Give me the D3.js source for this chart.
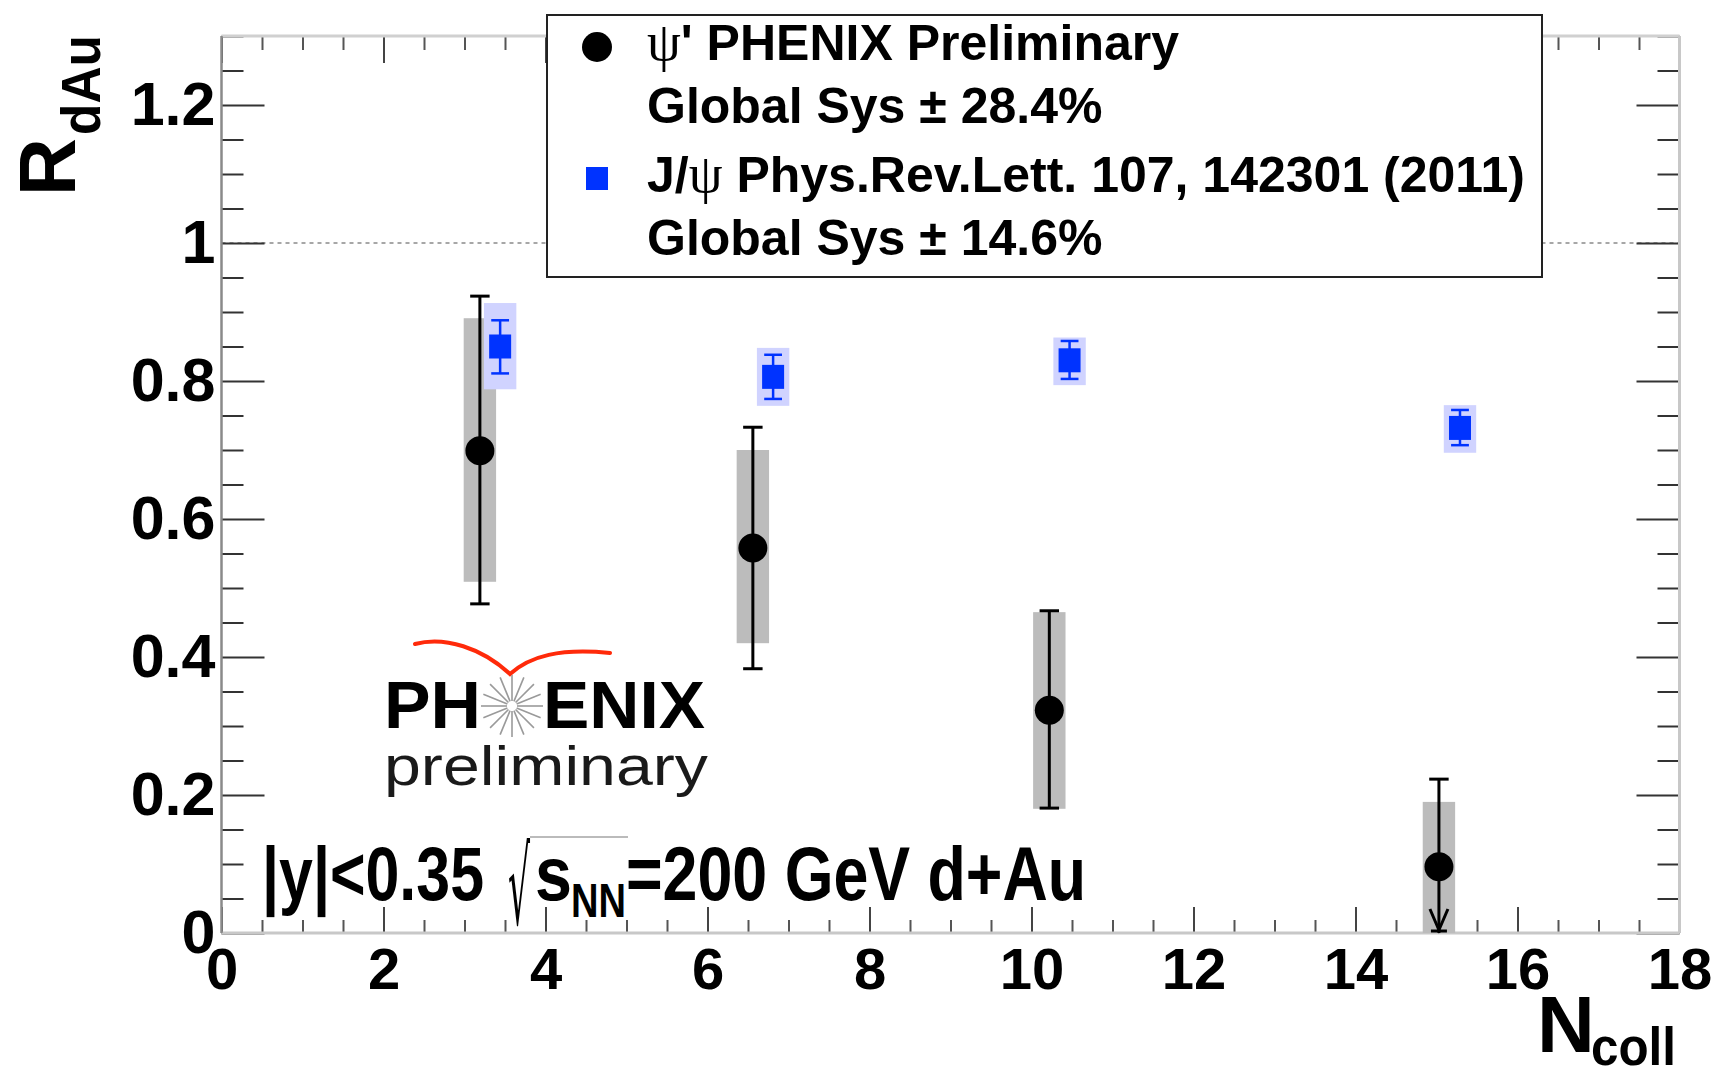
<!DOCTYPE html>
<html><head><meta charset="utf-8">
<script src="https://cdn.jsdelivr.net/npm/d3@7"></script>
<style>
body{margin:0;background:#fff}
svg{display:block}
text{font-family:'Liberation Sans',Arial,Helvetica,sans-serif}
</style>
</head><body>
<svg id="c" width="1719" height="1078"></svg>
<script>
// ---------------- data ----------------
const xTickValues = [0, 2, 4, 6, 8, 10, 12, 14, 16, 18];
const xTickLabels = ["0", "2", "4", "6", "8", "10", "12", "14", "16", "18"];
const yTickValues = [0, 0.2, 0.4, 0.6, 0.8, 1.0, 1.2];
const yTickLabels = ["0", "0.2", "0.4", "0.6", "0.8", "1", "1.2"];

// psi' PHENIX preliminary
const psiN       = [3.19, 6.56, 10.22, 15.03];
const psiR       = [0.699, 0.558, 0.323, 0.096];
const psiStatHi  = [0.923, 0.733, 0.467, 0.223];
const psiStatLo  = [0.477, 0.383, 0.181, 0.0];
const psiSysHi   = [0.891, 0.700, 0.465, 0.190];
const psiSysLo   = [0.509, 0.420, 0.180, 0.0];
const psiLimit   = [false, false, false, true];

// J/psi PRL 107, 142301 (2011)
const jpsiN      = [3.44, 6.81, 10.47, 15.29];
const jpsiR      = [0.850, 0.806, 0.830, 0.732];
const jpsiStatHi = [0.888, 0.838, 0.858, 0.758];
const jpsiStatLo = [0.811, 0.774, 0.803, 0.707];
const jpsiSysHi  = [0.913, 0.848, 0.863, 0.765];
const jpsiSysLo  = [0.788, 0.764, 0.794, 0.696];

const legendLabels = ["ψ' PHENIX Preliminary", "Global Sys ± 28.4%", "J/ψ Phys.Rev.Lett. 107, 142301 (2011)", "Global Sys ± 14.6%"];

// ---------------- drawing ----------------
const svg = d3.select("#c");
const X0 = 221.5, X1 = 1679.5, Y0 = 933, Y1 = 36;
const x = d3.scaleLinear().domain([0, 18]).range([X0, X1]);
const y = d3.scaleLinear().domain([0, 1.3]).range([Y0, Y1]);

const BLUE = "#0033ff", BLUE_SYS = "#d0d3ff", GRAY_SYS = "#bcbcbc";
const sysHalf = 0.2, capHalfK = 0.12, capHalfB = 0.11;

// reference line at R=1
svg.append("line")
  .attr("x1", x(0)).attr("x2", x(18)).attr("y1", y(1)).attr("y2", y(1))
  .attr("stroke", "#8a8a8a").attr("stroke-width", 1.5).attr("stroke-dasharray", "4,4");

// axes
const xMinor = d3.range(0, 18.001, 0.5).filter(v => !xTickValues.includes(v));
const yMinor = d3.range(0, 27).map(i => i * 0.05).filter(v => Math.abs(v / 0.2 - Math.round(v / 0.2)) > 1e-6);

function styleAxis(g, col, fs) {
  g.select(".domain").remove();
  g.selectAll(".tick line").attr("stroke", col).attr("stroke-width", 2);
  g.attr("font-family", "'Liberation Sans', Arial, sans-serif").attr("font-size", fs || 58).attr("font-weight", "bold");
  g.selectAll(".tick text").attr("fill", "#000");
}

const gx = svg.append("g").attr("transform", `translate(0,${Y0})`)
  .call(d3.axisBottom(x).tickValues(xTickValues).tickFormat((d, i) => xTickLabels[i]).tickSize(-26).tickPadding(15));
styleAxis(gx, "#444", 58);
const gxm = svg.append("g").attr("transform", `translate(0,${Y0})`)
  .call(d3.axisBottom(x).tickValues(xMinor).tickFormat("").tickSize(-13));
styleAxis(gxm, "#555");
const gxt = svg.append("g").attr("transform", `translate(0,${Y1})`)
  .call(d3.axisTop(x).tickValues(xTickValues).tickFormat("").tickSize(-27));
styleAxis(gxt, "#444");
const gxtm = svg.append("g").attr("transform", `translate(0,${Y1})`)
  .call(d3.axisTop(x).tickValues(xMinor).tickFormat("").tickSize(-14));
styleAxis(gxtm, "#555");

const gy = svg.append("g").attr("transform", `translate(${X0},0)`)
  .call(d3.axisLeft(y).tickValues(yTickValues).tickFormat((d, i) => yTickLabels[i]).tickSize(-43).tickPadding(6));
styleAxis(gy, "#333", 61);
const gym = svg.append("g").attr("transform", `translate(${X0},0)`)
  .call(d3.axisLeft(y).tickValues(yMinor).tickFormat("").tickSize(-22));
styleAxis(gym, "#333");
const gyr = svg.append("g").attr("transform", `translate(${X1},0)`)
  .call(d3.axisRight(y).tickValues(yTickValues).tickFormat("").tickSize(-43));
styleAxis(gyr, "#333");
const gyrm = svg.append("g").attr("transform", `translate(${X1},0)`)
  .call(d3.axisRight(y).tickValues(yMinor).tickFormat("").tickSize(-22));
styleAxis(gyrm, "#333");

// frame
svg.append("line").attr("x1", X0).attr("x2", X1).attr("y1", Y0).attr("y2", Y0).attr("stroke", "#c8c8c8").attr("stroke-width", 3);
svg.append("line").attr("x1", X0).attr("x2", X1).attr("y1", Y1).attr("y2", Y1).attr("stroke", "#d0d0d0").attr("stroke-width", 3);
svg.append("line").attr("x1", X1).attr("x2", X1).attr("y1", Y1).attr("y2", Y0).attr("stroke", "#c8c8c8").attr("stroke-width", 3);
svg.append("line").attr("x1", X0).attr("x2", X0).attr("y1", Y1).attr("y2", Y0).attr("stroke", "#8a8a8a").attr("stroke-width", 2.5);

// systematic boxes
const idx = d3.range(psiN.length);
svg.append("g").selectAll("rect").data(idx).join("rect")
  .attr("x", i => x(psiN[i] - sysHalf)).attr("width", i => x(psiN[i] + sysHalf) - x(psiN[i] - sysHalf))
  .attr("y", i => y(psiSysHi[i])).attr("height", i => y(psiSysLo[i]) - y(psiSysHi[i]))
  .attr("fill", GRAY_SYS);
svg.append("g").selectAll("rect").data(idx).join("rect")
  .attr("x", i => x(jpsiN[i] - sysHalf)).attr("width", i => x(jpsiN[i] + sysHalf) - x(jpsiN[i] - sysHalf))
  .attr("y", i => y(jpsiSysHi[i])).attr("height", i => y(jpsiSysLo[i]) - y(jpsiSysHi[i]))
  .attr("fill", BLUE_SYS);

// psi' stat errors
const ge = svg.append("g").attr("stroke", "#000").attr("stroke-width", 3).attr("fill", "none");
idx.forEach(i => {
  const cx = x(psiN[i]);
  ge.append("line").attr("x1", cx).attr("x2", cx).attr("y1", y(psiStatHi[i])).attr("y2", y(psiStatLo[i]));
  ge.append("line").attr("x1", x(psiN[i] - capHalfK)).attr("x2", x(psiN[i] + capHalfK)).attr("y1", y(psiStatHi[i])).attr("y2", y(psiStatHi[i]));
  if (psiLimit[i]) {
    const yb = y(psiStatLo[i]);
    ge.append("path").attr("d", `M${cx - 9},${yb - 24}L${cx},${yb - 3}L${cx + 9},${yb - 24}`);
    ge.append("line").attr("x1", cx - 8).attr("x2", cx + 8).attr("y1", yb - 2).attr("y2", yb - 2);
  } else {
    ge.append("line").attr("x1", x(psiN[i] - capHalfK)).attr("x2", x(psiN[i] + capHalfK)).attr("y1", y(psiStatLo[i])).attr("y2", y(psiStatLo[i]));
  }
});
// J/psi stat errors
const gb = svg.append("g").attr("stroke", BLUE).attr("stroke-width", 2.5);
idx.forEach(i => {
  const cx = x(jpsiN[i]);
  gb.append("line").attr("x1", cx).attr("x2", cx).attr("y1", y(jpsiStatHi[i])).attr("y2", y(jpsiStatLo[i]));
  [jpsiStatHi[i], jpsiStatLo[i]].forEach(v =>
    gb.append("line").attr("x1", x(jpsiN[i] - capHalfB)).attr("x2", x(jpsiN[i] + capHalfB)).attr("y1", y(v)).attr("y2", y(v)));
});

// markers
svg.append("g").selectAll("circle").data(idx).join("circle")
  .attr("cx", i => x(psiN[i])).attr("cy", i => y(psiR[i])).attr("r", 14.5).attr("fill", "#000");
svg.append("g").selectAll("rect").data(idx).join("rect")
  .attr("x", i => x(jpsiN[i]) - 11).attr("y", i => y(jpsiR[i]) - 12).attr("width", 22).attr("height", 24)
  .attr("fill", BLUE);

// legend
const lg = svg.append("g");
lg.append("rect").attr("x", 547).attr("y", 15).attr("width", 995).attr("height", 262)
  .attr("fill", "#fff").attr("stroke", "#222").attr("stroke-width", 2);
lg.append("circle").attr("cx", 597).attr("cy", 47).attr("r", 15).attr("fill", "#000");
lg.append("rect").attr("x", 586).attr("y", 167).attr("width", 22).attr("height", 23).attr("fill", BLUE);
const legFont = 50;
const t1 = lg.append("text").attr("x", 647).attr("y", 60).attr("font-size", legFont).attr("font-weight", "bold");
t1.append("tspan").attr("font-family", "'Liberation Serif', serif").attr("font-weight", "normal").attr("font-size", 54).text(legendLabels[0].slice(0, 1));
t1.append("tspan").text(legendLabels[0].slice(1));
lg.append("text").attr("x", 647).attr("y", 123).attr("font-size", legFont).attr("font-weight", "bold").text(legendLabels[1]);
const t3 = lg.append("text").attr("x", 647).attr("y", 192).attr("font-size", legFont).attr("font-weight", "bold");
t3.append("tspan").text(legendLabels[2].slice(0, 2));
t3.append("tspan").attr("font-family", "'Liberation Serif', serif").attr("font-weight", "normal").attr("font-size", 54).text(legendLabels[2].slice(2, 3));
t3.append("tspan").text(legendLabels[2].slice(3));
lg.append("text").attr("x", 647).attr("y", 255).attr("font-size", legFont).attr("font-weight", "bold").text(legendLabels[3]);

// axis titles
const yt = svg.append("text").attr("transform", "translate(75,196) rotate(-90)").attr("font-weight", "bold");
yt.append("tspan").attr("x", 0).attr("y", 0).attr("font-size", 80).text("R");
yt.append("tspan").attr("x", 61).attr("y", 25).attr("font-size", 56)
  .attr("textLength", 100).attr("lengthAdjust", "spacingAndGlyphs").text("dAu");
const xt = svg.append("text").attr("font-weight", "bold");
xt.append("tspan").attr("x", 1537).attr("y", 1052).attr("font-size", 80).text("N");
xt.append("tspan").attr("x", 1591).attr("y", 1065).attr("font-size", 54)
  .attr("textLength", 85).attr("lengthAdjust", "spacingAndGlyphs").text("coll");

// kinematics text
const kt = svg.append("text").attr("font-weight", "bold").attr("font-size", 76);
kt.append("tspan").attr("x", 262).attr("y", 900)
  .attr("textLength", 222).attr("lengthAdjust", "spacingAndGlyphs").text("|y|<0.35");
kt.append("tspan").attr("x", 508).attr("y", 924).attr("font-size", 106).attr("font-weight", "normal")
  .attr("font-family", "'DejaVu Sans', sans-serif").attr("textLength", 22).attr("lengthAdjust", "spacingAndGlyphs").text("√");
kt.append("tspan").attr("x", 535).attr("y", 900)
  .attr("textLength", 37).attr("lengthAdjust", "spacingAndGlyphs").text("s");
kt.append("tspan").attr("x", 571).attr("y", 917).attr("font-size", 48)
  .attr("textLength", 55).attr("lengthAdjust", "spacingAndGlyphs").text("NN");
kt.append("tspan").attr("x", 626).attr("y", 900)
  .attr("textLength", 460).attr("lengthAdjust", "spacingAndGlyphs").text("=200 GeV d+Au");
svg.append("line").attr("x1", 530).attr("x2", 628).attr("y1", 837).attr("y2", 837).attr("stroke", "#bbb").attr("stroke-width", 2);

// PHENIX preliminary logo
const logo = svg.append("g");
logo.append("path").attr("d", "M415,644 C445,636 482,648 510,674 C530,656 560,648 610,653")
  .attr("fill", "none").attr("stroke", "#ff2a0a").attr("stroke-width", 4).attr("stroke-linecap", "round");
const pt = logo.append("text").attr("font-size", 67).attr("font-weight", "bold");
pt.append("tspan").attr("x", 384).attr("y", 728)
  .attr("textLength", 97).attr("lengthAdjust", "spacingAndGlyphs").text("PH");
pt.append("tspan").attr("x", 543).attr("y", 728)
  .attr("textLength", 162).attr("lengthAdjust", "spacingAndGlyphs").text("ENIX");
const star = logo.append("g").attr("stroke", "#9a9a9a").attr("stroke-width", 1.6);
d3.range(16).forEach(k => {
  const a = k * Math.PI / 8;
  star.append("line").attr("x1", 512 + 5 * Math.cos(a)).attr("y1", 706 + 5 * Math.sin(a))
    .attr("x2", 512 + 31 * Math.cos(a)).attr("y2", 706 + 31 * Math.sin(a));
});
logo.append("text").attr("x", 384).attr("y", 785).attr("font-size", 56).attr("fill", "#1a1a1a")
  .attr("font-family", "'DejaVu Sans', sans-serif")
  .attr("textLength", 324).attr("lengthAdjust", "spacingAndGlyphs").text("preliminary");
</script>
</body></html>
